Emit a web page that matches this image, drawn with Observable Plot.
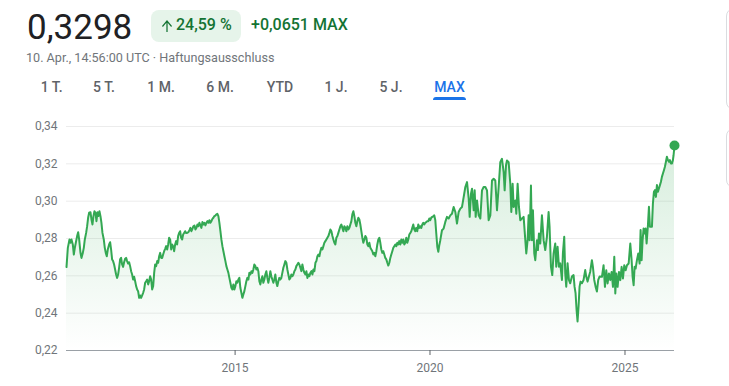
<!DOCTYPE html>
<html lang="de">
<head>
<meta charset="utf-8">
<script src="https://cdn.jsdelivr.net/npm/d3@7"></script>
<script src="https://cdn.jsdelivr.net/npm/@observablehq/plot@0.6"></script>
<style>
  html, body { margin:0; padding:0; background:#fff; }
  body { width:729px; height:386px; overflow:hidden; position:relative; font-family: Roboto, "Noto Sans", Arial, sans-serif; }
  #header { position:relative; width:729px; height:110px; }
  .t { position:absolute; white-space:nowrap; }
  #price { left:27px; top:10px; font-size:35px; line-height:35px; color:#202124; }
  #badge { left:151px; top:10px; width:90px; height:32px; border-radius:8px; background:#e6f4ea; }
  #badge svg { position:absolute; left:11px; top:10px; }
  #pct { left:176px; top:17px; font-size:16px; line-height:16px; font-weight:500; color:#137333; }
  #chg { left:251px; top:17px; font-size:16px; line-height:16px; font-weight:500; color:#137333; }
  #sub { left:26px; top:52px; font-size:12.6px; line-height:12px; color:#70757a; }
  .tab { top:80px; width:60px; text-align:center; font-size:14px; line-height:14px; font-weight:500; color:#5f6368; }
  .tab.active { color:#1a73e8; }
  #underline { left:433px; top:97px; width:33px; height:3px; background:#1a73e8; border-radius:3px 3px 0 0; }
  #chart { position:absolute; left:0; top:110px; width:729px; height:276px; }
  .side { position:absolute; left:726px; width:40px; border:1px solid #dadce0; border-radius:8px; background:#fff; z-index:5; }
</style>
</head>
<body>
<div id="header"></div>
<div id="chart"></div>
<div class="side" style="top:8px;height:100px;"></div>
<div class="side" style="top:128px;height:58px;"></div>
<script>
// ---- header texts ----
const priceText = "0,3298";
const pctText = "24,59 %";
const changeText = "+0,0651 MAX";
const subText = "10. Apr., 14:56:00 UTC · Haftungsausschluss";
const tabLabels = ["1 T.", "5 T.", "1 M.", "6 M.", "YTD", "1 J.", "5 J.", "MAX"];
const activeTab = "MAX";

// ---- axis ticks ----
const yTicks = [0.22, 0.24, 0.26, 0.28, 0.30, 0.32, 0.34];
const xTickYears = [2015, 2020, 2025];

// ---- series: dates as decimal years ----
const years = [
2010.675,2010.709,2010.752,2010.777,2010.803,2010.837,2010.863,2010.889,2010.914,2010.948,
2010.974,2011.000,2011.034,2011.059,2011.094,2011.119,2011.145,2011.179,2011.205,2011.230,
2011.256,2011.290,2011.316,2011.342,2011.367,2011.393,2011.418,2011.444,2011.470,2011.495,
2011.521,2011.547,2011.572,2011.598,2011.632,2011.658,2011.683,2011.709,2011.735,2011.769,
2011.795,2011.820,2011.846,2011.871,2011.897,2011.923,2011.948,2011.974,2012.000,2012.025,
2012.051,2012.077,2012.102,2012.128,2012.153,2012.179,2012.205,2012.230,2012.256,2012.282,
2012.307,2012.333,2012.359,2012.384,2012.410,2012.436,2012.461,2012.487,2012.512,2012.538,
2012.564,2012.589,2012.615,2012.641,2012.666,2012.692,2012.718,2012.743,2012.769,2012.795,
2012.820,2012.846,2012.871,2012.897,2012.923,2012.948,2012.974,2013.000,2013.025,2013.051,
2013.077,2013.102,2013.128,2013.153,2013.179,2013.205,2013.230,2013.256,2013.282,2013.307,
2013.333,2013.359,2013.384,2013.410,2013.436,2013.461,2013.487,2013.512,2013.538,2013.564,
2013.589,2013.615,2013.641,2013.666,2013.692,2013.718,2013.743,2013.769,2013.803,
2013.828,2013.853,2013.879,2013.905,2013.930,2013.956,2013.982,2014.007,2014.033,2014.059,
2014.084,2014.110,2014.135,2014.161,2014.187,2014.212,2014.238,2014.264,2014.289,2014.315,
2014.341,2014.366,2014.392,2014.418,2014.443,2014.469,2014.494,2014.520,2014.546,2014.571,
2014.597,2014.623,2014.648,2014.674,2014.700,2014.725,2014.751,2014.776,2014.802,2014.828,
2014.853,2014.879,2014.905,2014.930,2014.956,2014.982,2015.007,2015.033,2015.059,2015.084,
2015.110,2015.135,2015.161,2015.187,2015.212,2015.238,2015.264,2015.289,2015.315,2015.341,
2015.366,2015.392,2015.418,2015.443,2015.469,2015.494,2015.520,2015.546,2015.571,2015.597,
2015.623,2015.648,2015.674,2015.700,2015.725,2015.751,2015.776,2015.802,2015.828,2015.853,
2015.879,2015.905,2015.930,2015.956,2015.982,2016.007,2016.033,2016.059,2016.084,2016.110,
2016.135,2016.161,2016.187,2016.212,2016.238,2016.264,2016.289,2016.315,2016.341,2016.366,
2016.392,2016.418,2016.443,2016.469,2016.494,2016.520,2016.546,2016.571,2016.597,2016.623,
2016.648,2016.674,2016.700,2016.725,2016.751,2016.776,2016.802,2016.828,2016.853,2016.879,
2016.905,2016.930,2016.956,2016.982,2017.007,2017.033,2017.059,2017.084,2017.110,2017.136,
2017.161,2017.187,2017.212,2017.238,2017.264,2017.289,2017.315,2017.341,2017.366,2017.392,
2017.418,2017.443,2017.469,2017.495,2017.520,2017.546,2017.571,2017.597,2017.623,2017.648,
2017.674,2017.700,2017.725,2017.751,2017.777,2017.802,2017.828,2017.853,2017.879,2017.905,
2017.930,2017.956,2017.982,2018.007,2018.033,2018.059,2018.084,2018.110,2018.136,2018.161,
2018.187,2018.212,2018.238,2018.264,2018.289,2018.315,2018.341,2018.366,2018.392,2018.418,
2018.443,2018.469,2018.495,2018.520,2018.546,2018.571,2018.597,2018.623,2018.648,2018.674,
2018.700,2018.725,2018.751,2018.777,2018.802,2018.828,2018.853,2018.879,2018.905,2018.930,
2018.956,2018.982,2019.007,2019.033,2019.059,2019.084,2019.110,2019.136,2019.161,2019.187,
2019.212,2019.238,2019.264,2019.289,2019.315,2019.341,2019.366,2019.392,2019.418,2019.443,
2019.469,2019.495,2019.520,2019.546,2019.571,2019.597,2019.623,2019.648,2019.674,2019.700,
2019.725,2019.751,2019.777,2019.802,2019.828,2019.853,2019.879,2019.905,2019.930,2019.956,
2019.982,2020.007,2020.033,2020.059,2020.084,2020.110,2020.136,2020.161,2020.187,2020.213,2020.238,
2020.264,2020.307,2020.349,2020.392,2020.435,2020.478,2020.520,2020.563,2020.606,2020.649,
2020.691,2020.734,2020.777,2020.820,2020.862,2020.905,2020.948,2020.991,2021.016,2021.050,
2021.076,2021.119,2021.144,2021.170,2021.204,2021.247,2021.290,2021.332,2021.375,2021.418,
2021.461,2021.503,2021.546,2021.589,2021.632,2021.674,2021.717,2021.760,2021.802,2021.845,
2021.888,2021.914,2021.948,2021.973,2022.016,2022.059,2022.085,2022.119,2022.144,2022.187,
2022.213,2022.247,2022.281,2022.315,2022.358,2022.401,2022.444,2022.469,2022.503,2022.529,
2022.555,2022.589,2022.614,2022.640,2022.674,2022.700,2022.743,2022.768,2022.794,2022.828,
2022.871,2022.914,2022.956,2022.999,2023.042,2023.067,2023.102,2023.136,2023.170,2023.213,
2023.238,2023.273,2023.307,2023.341,2023.384,2023.409,2023.443,2023.469,2023.495,2023.529,
2023.563,2023.597,2023.640,2023.683,2023.708,2023.734,2023.760,2023.785,2023.811,2023.837,
2023.862,2023.897,2023.939,2023.982,2024.008,2024.042,2024.076,2024.110,2024.153,2024.178,
2024.213,2024.247,2024.281,2024.315,2024.349,
2024.410,2024.452,2024.487,2024.521,2024.555,2024.589,2024.623,2024.658,2024.692,2024.726,
2024.752,2024.777,2024.811,2024.846,2024.880,2024.914,2024.948,2024.982,2025.017,2025.051,
2025.094,2025.136,2025.170,2025.196,2025.222,2025.247,2025.273,2025.307,2025.341,2025.376,
2025.401,2025.427,2025.452,2025.478,2025.504,2025.529,2025.555,2025.589,2025.615,2025.640,
2025.666,2025.692,2025.717,2025.743,2025.769,2025.794,2025.820,2025.846,2025.871,2025.897,
2025.923,2025.948,2025.974,2026.000,2026.025,2026.051,2026.076,2026.102,2026.128,2026.153,
2026.179,2026.205,2026.230,2026.247,2026.271
];
const prices = [
0.2647,0.275,0.2795,0.2777,0.2795,0.2768,0.2714,0.275,0.2777,0.2813,
0.2834,0.2795,0.2723,0.2696,0.2723,0.275,0.2795,0.283,0.2866,0.2911,
0.2938,0.2941,0.2902,0.2875,0.292,0.2946,0.2938,0.2893,0.2941,0.292,
0.2946,0.292,0.2884,0.283,0.2795,0.275,0.2723,0.2705,0.2741,0.2768,
0.278,0.2741,0.2688,0.2679,0.2661,0.2634,0.2607,0.2589,0.2607,0.2643,
0.2688,0.2696,0.2661,0.2648,0.2673,0.2691,0.2696,0.2679,0.2666,0.2673,
0.2652,0.2625,0.2607,0.258,0.2595,0.2571,0.2545,0.2527,0.2518,0.2482,
0.2495,0.2482,0.2495,0.2509,0.2527,0.2563,0.2571,0.258,0.2554,0.2571,
0.2598,0.258,0.2527,0.2545,0.2616,0.2661,0.2652,0.2679,0.267,0.2705,
0.2723,0.2696,0.2696,0.2714,0.2732,0.2745,0.2759,0.2741,0.2768,0.2804,
0.2795,0.2741,0.2768,0.2759,0.2732,0.2768,0.2786,0.2768,0.2813,0.283,
0.2839,0.2804,0.2795,0.2821,0.283,0.2839,0.283,0.283,0.2834,
0.2845,0.2857,0.2839,0.2852,0.2866,0.287,0.2848,0.2857,0.2875,0.2866,
0.2884,0.287,0.2857,0.2888,0.2875,0.2884,0.287,0.2884,0.2893,0.2884,
0.2898,0.2884,0.2893,0.2905,0.2911,0.292,0.2923,0.2929,0.2932,0.292,
0.2884,0.2839,0.2795,0.2759,0.2732,0.2705,0.2679,0.2652,0.2634,0.2616,
0.2589,0.2563,0.2536,0.2527,0.2554,0.2527,0.2545,0.2571,0.2563,0.258,
0.2589,0.2536,0.2509,0.2482,0.25,0.2518,0.2545,0.2571,0.2589,0.258,
0.2616,0.2607,0.2625,0.2616,0.2634,0.2661,0.2652,0.2634,0.2643,0.2625,
0.2571,0.2554,0.258,0.2598,0.2563,0.258,0.2607,0.2625,0.2589,0.2563,
0.2589,0.2625,0.2598,0.258,0.2563,0.258,0.2607,0.2563,0.2545,0.2571,
0.2589,0.258,0.2589,0.2616,0.2643,0.2661,0.2679,0.267,0.2634,0.2607,
0.258,0.2589,0.2607,0.2598,0.2607,0.2625,0.2634,0.2652,0.2661,0.267,
0.2661,0.2643,0.2625,0.2661,0.2634,0.2616,0.2607,0.2625,0.2589,0.2607,
0.2598,0.2616,0.2625,0.2607,0.2634,0.2625,0.267,0.2679,0.2705,0.2714,
0.2705,0.2732,0.275,0.2741,0.2759,0.2777,0.2786,0.2795,0.2804,0.2813,
0.283,0.2848,0.2839,0.2813,0.2795,0.2777,0.2768,0.2804,0.2813,0.283,
0.2848,0.2866,0.2875,0.2857,0.2839,0.2866,0.2857,0.2839,0.2866,0.2848,
0.2857,0.2875,0.2893,0.2929,0.2946,0.292,0.2884,0.2866,0.2893,0.2911,
0.2902,0.2875,0.2839,0.2804,0.2777,0.2795,0.2813,0.2804,0.2768,0.2759,
0.2777,0.275,0.2741,0.2732,0.2714,0.2723,0.2705,0.2732,0.2768,0.2795,
0.2804,0.2777,0.2741,0.2723,0.2732,0.2714,0.2696,0.2688,0.267,0.2655,
0.267,0.2696,0.2714,0.2732,0.275,0.2759,0.2768,0.2759,0.2777,0.2768,
0.2786,0.2768,0.2795,0.2777,0.2795,0.2768,0.2777,0.2804,0.2777,0.2795,
0.2821,0.283,0.2839,0.2857,0.2875,0.2848,0.2839,0.2857,0.2839,0.2875,
0.2857,0.2866,0.2857,0.2875,0.2884,0.2875,0.2884,0.2888,0.2893,0.2893,
0.2907,0.2898,0.2912,0.2916,0.2919,0.2924,0.2898,0.2827,0.2756,0.2729,0.2764,
0.2791,0.2844,0.2853,0.2889,0.2916,0.2907,0.2924,0.2933,0.2969,0.2942,
0.288,0.2942,0.296,0.2969,0.3022,0.3076,0.3102,0.3013,0.2916,0.304,
0.3067,0.2951,0.3058,0.2916,0.3004,0.2924,0.2907,0.3058,0.3076,0.3076,
0.3058,0.2898,0.2924,0.3111,0.312,0.3111,0.2951,0.3076,0.3209,0.3227,
0.3156,0.3058,0.3191,0.3218,0.3209,0.3093,0.2942,0.3093,0.2969,0.3004,
0.2933,0.3093,0.2969,0.2898,0.2907,0.2916,0.2791,0.272,0.2791,0.2924,
0.2791,0.3084,0.2791,0.2951,0.272,0.2684,0.2791,0.2738,0.2827,0.2773,
0.2924,0.2791,0.2738,0.2809,0.2942,0.2862,0.2649,0.2604,0.272,0.2773,
0.2649,0.2756,0.2649,0.2667,0.2578,0.272,0.2809,0.2613,0.2542,0.2667,
0.2578,0.256,0.2596,0.2604,0.2542,0.2507,0.2418,0.2356,0.2436,0.2542,
0.2569,0.256,0.2578,0.2631,0.2596,0.2569,0.2596,0.2622,0.2684,0.2649,
0.2578,0.2542,0.2516,0.2578,0.2596,
0.2595,0.2657,0.2541,0.263,0.2559,0.2613,0.2577,0.2621,0.2541,0.2702,
0.2505,0.2613,0.2541,0.2621,0.2577,0.2648,0.2586,0.2657,0.263,0.2657,
0.2666,0.2773,0.2684,0.2595,0.255,0.2648,0.2639,0.2684,0.272,0.2666,
0.2845,0.2684,0.2791,0.2854,0.2827,0.2854,0.2773,0.2871,0.297,0.2863,
0.2863,0.2863,0.2988,0.305,0.3059,0.3023,0.3086,0.305,0.3068,0.3086,
0.3104,0.313,0.3148,0.3166,0.3184,0.3211,0.3238,0.322,0.3211,0.322,
0.3202,0.3202,0.322,0.3246,0.3298
];

// ---- header ----
const header = document.getElementById("header");
function addText(id, cls, text) {
  const d = document.createElement("div");
  if (id) d.id = id;
  d.className = "t" + (cls ? " " + cls : "");
  d.textContent = text;
  header.appendChild(d);
  return d;
}
addText("price", "", priceText);
const badge = addText("badge", "", "");
badge.innerHTML = '<svg width="10" height="12" viewBox="4 4 16 16" preserveAspectRatio="none"><path fill="#137333" d="M4 12l1.41 1.41L11 7.830V20h2V7.83l5.58 5.59L20 12l-8-8-8 8z"/></svg>';
addText("pct", "", pctText);
addText("chg", "", changeText);
addText("sub", "", subText);
const tabCenters = [51.7, 104, 161, 220, 280, 336, 391, 449.5];
tabLabels.forEach((lab, i) => {
  const d = addText(null, "tab" + (lab === activeTab ? " active" : ""), lab);
  d.style.left = (tabCenters[i] - 30) + "px";
});
const ul = document.createElement("div");
ul.id = "underline"; ul.className = "t";
header.appendChild(ul);

// ---- chart ----
function yearToDate(y) {
  const Y = Math.floor(y);
  const a = Date.UTC(Y, 0, 1), b = Date.UTC(Y + 1, 0, 1);
  return new Date(a + (y - Y) * (b - a));
}
const data = years.map((y, i) => ({date: yearToDate(y), price: prices[i]}));
const last = data[data.length - 1];
const xTicks = xTickYears.map(y => new Date(Date.UTC(y, 0, 1)));
const fmt = d => d.toFixed(2).replace(".", ",");
const yMin = yTicks[0], yMax = yTicks[yTicks.length - 1];

const chart = Plot.plot({
  width: 729, height: 276,
  marginLeft: 66, marginRight: 55, marginTop: 16, marginBottom: 36,
  style: {fontFamily: "Roboto, 'Noto Sans', sans-serif", fontSize: "12px", background: "transparent", overflow: "visible"},
  x: {type: "utc", domain: [data[0].date, last.date], label: null},
  y: {domain: [yMin, yMax], label: null},
  marks: [
    Plot.gridY(yTicks, {stroke: "#ececec", strokeOpacity: 1}),
    Plot.areaY(data, {x: "date", y1: () => yMin, y2: "price", fill: "url(#gfArea)"}),
    Plot.ruleY([yMin], {stroke: "#9aa0a6", strokeWidth: 1}),
    Plot.lineY(data, {x: "date", y: "price", stroke: "#34a853", strokeWidth: 2, strokeLinejoin: "round"}),
    Plot.dot([last], {x: "date", y: "price", r: 5, fill: "#34a853"}),
    Plot.axisY(yTicks, {tickSize: 0, tickPadding: 9, tickFormat: fmt, fill: "#70757a", fontSize: 12, label: null}),
    Plot.axisX(xTicks, {tickSize: 5, tickPadding: 8, tickFormat: d3.utcFormat("%Y"), fill: "#70757a", stroke: "#5f6368", fontSize: 12, label: null})
  ]
});
const svg = d3.select(chart);
const grad = svg.insert("defs", ":first-child").append("linearGradient")
  .attr("id", "gfArea").attr("x1", 0).attr("x2", 0).attr("y1", 0).attr("y2", 1);
grad.append("stop").attr("offset", "0%").attr("stop-color", "#34a853").attr("stop-opacity", 0.2);
grad.append("stop").attr("offset", "100%").attr("stop-color", "#34a853").attr("stop-opacity", 0);
document.getElementById("chart").appendChild(chart);
</script>
</body>
</html>
